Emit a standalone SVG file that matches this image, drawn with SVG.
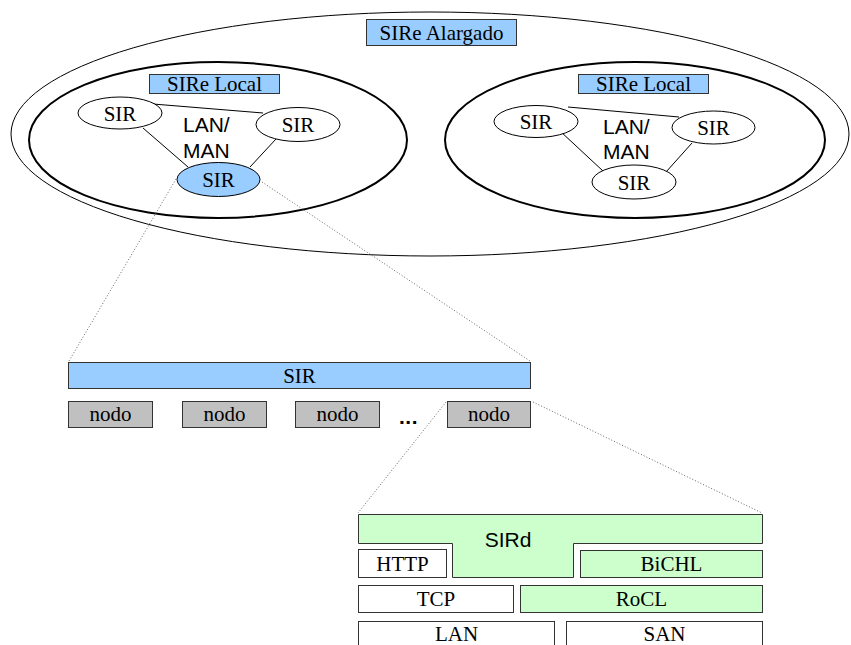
<svg xmlns="http://www.w3.org/2000/svg" width="851" height="645" viewBox="0 0 851 645">
  <style>
    .serif { font-family: "Liberation Serif", "Times New Roman", serif; font-size: 21px; fill: #000; text-anchor: middle; }
    .sans { font-family: "Liberation Sans", Arial, sans-serif; font-size: 21px; fill: #000; }
    .region { fill: none; stroke: #000; }
    .sir { fill: #fff; stroke: #000; stroke-width: 1; }
    .sir-sel { fill: #99ccff; stroke: #000; stroke-width: 1; }
    .label { fill: #99ccff; stroke: #333; stroke-width: 1; }
    .nodo { fill: #c0c0c0; stroke: #333; stroke-width: 1; }
    .green { fill: #ccffcc; stroke: #333; stroke-width: 1; }
    .white { fill: #fff; stroke: #333; stroke-width: 1; }
    .link { stroke: #000; stroke-width: 1; fill: none; }
    .zoom { stroke: #666; stroke-width: 1; stroke-dasharray: 1 2; fill: none; }
  </style>

  <!-- wide-area container -->
  <g id="sire-alargado">
    <ellipse class="region" cx="430" cy="134" rx="419" ry="122" stroke-width="1"/>
    <rect class="label" x="366.5" y="19.5" width="150" height="26"/>
    <text class="serif" x="441.5" y="39.5">SIRe Alargado</text>
  </g>

  <!-- left local network -->
  <g id="sire-local-1">
    <ellipse class="region" cx="218" cy="140" rx="189" ry="78" stroke-width="2"/>
    <rect class="label" x="149.5" y="74.5" width="130" height="19"/>
    <text class="serif" x="214.5" y="90.5">SIRe Local</text>
    <text class="sans" x="183" y="132">LAN/</text>
    <text class="sans" x="183" y="158">MAN</text>
  </g>

  <!-- right local network -->
  <g id="sire-local-2">
    <ellipse class="region" cx="635" cy="140" rx="190" ry="78" stroke-width="2"/>
    <rect class="label" x="578.5" y="74.5" width="130" height="19"/>
    <text class="serif" x="643.5" y="90.5">SIRe Local</text>
    <text class="sans" x="603" y="134">LAN/</text>
    <text class="sans" x="603" y="159">MAN</text>
  </g>

  <!-- links and zoom guides -->
  <g id="connectors">
    <line class="link" x1="153" y1="104" x2="263" y2="113"/>
    <line class="link" x1="143" y1="128" x2="188" y2="167"/>
    <line class="link" x1="276" y1="139" x2="250" y2="167"/>
    <line class="link" x1="568" y1="107" x2="679" y2="117"/>
    <line class="link" x1="560" y1="131" x2="603" y2="171"/>
    <line class="link" x1="692" y1="143" x2="666" y2="172"/>
    <line class="zoom" x1="176" y1="179" x2="69" y2="361"/>
    <line class="zoom" x1="262" y1="182" x2="530" y2="361"/>
    <line class="zoom" x1="446" y1="402" x2="358" y2="513"/>
    <line class="zoom" x1="533" y1="402" x2="762" y2="513"/>
  </g>

  <!-- servers of the left network -->
  <g id="sir-l1">
    <ellipse class="sir" cx="120" cy="113" rx="42" ry="16"/>
    <text class="serif" x="120" y="121">SIR</text>
  </g>
  <g id="sir-l2">
    <ellipse class="sir" cx="298" cy="124.5" rx="42" ry="17"/>
    <text class="serif" x="298" y="132">SIR</text>
  </g>
  <g id="sir-l3">
    <ellipse class="sir-sel" cx="218.5" cy="179.5" rx="41.5" ry="17"/>
    <text class="serif" x="218.5" y="186.5">SIR</text>
  </g>

  <!-- servers of the right network -->
  <g id="sir-r1">
    <ellipse class="sir" cx="536" cy="121.5" rx="42" ry="16"/>
    <text class="serif" x="536" y="128.5">SIR</text>
  </g>
  <g id="sir-r2">
    <ellipse class="sir" cx="713.5" cy="127.5" rx="41.5" ry="16.5"/>
    <text class="serif" x="713.5" y="134.5">SIR</text>
  </g>
  <g id="sir-r3">
    <ellipse class="sir" cx="634" cy="182" rx="42" ry="17"/>
    <text class="serif" x="634" y="189.5">SIR</text>
  </g>

  <!-- one server as a cluster of nodes -->
  <g id="sir-bar">
    <rect class="label" x="68.5" y="362.5" width="462" height="26"/>
    <text class="serif" x="299.5" y="383">SIR</text>
  </g>
  <g id="nodo-1">
    <rect class="nodo" x="68.5" y="401.5" width="84" height="26"/>
    <text class="serif" x="110.5" y="421">nodo</text>
  </g>
  <g id="nodo-2">
    <rect class="nodo" x="182.5" y="401.5" width="84" height="26"/>
    <text class="serif" x="224.5" y="421">nodo</text>
  </g>
  <g id="nodo-3">
    <rect class="nodo" x="295.5" y="401.5" width="84" height="26"/>
    <text class="serif" x="337.5" y="421">nodo</text>
  </g>
  <text class="sans" x="399" y="424" font-weight="bold" font-size="27" letter-spacing="0.5">...</text>
  <g id="nodo-4">
    <rect class="nodo" x="447.5" y="401.5" width="83" height="26"/>
    <text class="serif" x="489" y="421">nodo</text>
  </g>

  <!-- protocol stack of a node -->
  <g id="sird">
    <path class="green" d="M358.5 514.5 H762.5 V543.5 H573.5 V577.5 H452.5 V543.5 H358.5 Z"/>
    <text class="sans" x="508" y="547" text-anchor="middle">SIRd</text>
  </g>
  <g id="http">
    <rect class="white" x="358.5" y="549.5" width="88" height="28"/>
    <text class="serif" x="402.5" y="571">HTTP</text>
  </g>
  <g id="bichl">
    <rect class="green" x="580.5" y="550.5" width="182" height="27"/>
    <text class="serif" x="671.5" y="571">BiCHL</text>
  </g>
  <g id="tcp">
    <rect class="white" x="358.5" y="585.5" width="155" height="27"/>
    <text class="serif" x="436" y="606">TCP</text>
  </g>
  <g id="rocl">
    <rect class="green" x="520.5" y="585.5" width="242" height="27"/>
    <text class="serif" x="641.5" y="606">RoCL</text>
  </g>
  <g id="lan">
    <rect class="white" x="358.5" y="621.5" width="196" height="30"/>
    <text class="serif" x="456.5" y="641" font-size="20">LAN</text>
  </g>
  <g id="san">
    <rect class="white" x="566.5" y="621.5" width="196" height="30"/>
    <text class="serif" x="664.5" y="641" font-size="20">SAN</text>
  </g>
</svg>
